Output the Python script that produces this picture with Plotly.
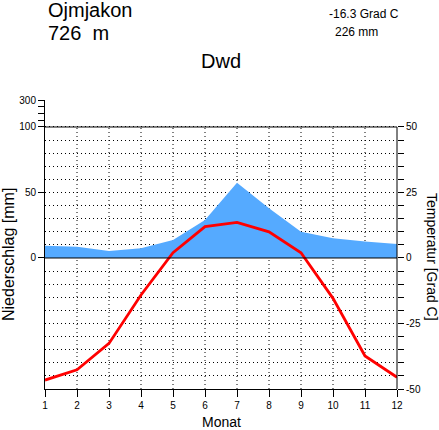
import plotly.graph_objects as go

# ---- data ----
months = [1, 2, 3, 4, 5, 6, 7, 8, 9, 10, 11, 12]
temperature_c = [-46.6, -42.7, -32.6, -14.1, 2.0, 12.0, 13.6, 10.0, 2.0, -15.4, -37.4, -45.5]
precip_mm = [9.4, 8.6, 5.3, 7.4, 13.7, 29.0, 57.5, 37.9, 20.1, 15.0, 12.5, 10.7]
station = "Ojmjakon"
elevation = "726  m"
mean_temp_text = "-16.3 Grad C"
annual_precip_text = "226 mm"
climate_class = "Dwd"
temp_ticks = list(range(-50, 55, 5))
temp_labels = [str(t) if t % 25 == 0 else "" for t in temp_ticks]
precip_tickvals = [0, 50, 100, 105.15, 110.3, 115.45, 120.6]
precip_ticktext = ["0", "50", "100", "", "", "", "300"]

W, H = 439, 430
L, R, T, B = 45, 42, 100, 41
PW, PH = W - L - R, H - T - B
FONT = "Liberation Sans, Arial, sans-serif"


def px_x(px):
    return (px - L) / PW


def px_y(py):
    return (H - B - py) / PH


fig = go.Figure()

fig.add_trace(go.Scatter(
    x=months, y=precip_mm, yaxis="y", mode="lines",
    line=dict(width=0, color="#55aaff"), fill="tozeroy", fillcolor="#55aaff",
    hoverinfo="skip", showlegend=False,
))
fig.add_trace(go.Scatter(
    x=months, y=temperature_c, yaxis="y2", mode="lines",
    line=dict(width=2.8, color="#ff0000"), showlegend=False,
))

shapes = []
# vertical dotted grid lines
for m in months[1:-1]:
    shapes.append(dict(type="line", xref="x", yref="y2", x0=m, x1=m, y0=-50, y1=50,
                       line=dict(color="black", width=1, dash="1px,3px"), layer="below"))
# top line, zero line, right axis line
shapes.append(dict(type="line", xref="paper", yref="y2", x0=0, x1=1, y0=50, y1=50,
                   line=dict(color="black", width=1), layer="above"))
shapes.append(dict(type="line", xref="paper", yref="y2", x0=0, x1=1, y0=0, y1=0,
                   line=dict(color="black", width=1), layer="above"))
shapes.append(dict(type="line", xref="paper", yref="y2", x0=1, x1=1, y0=-50, y1=50,
                   line=dict(color="black", width=1), layer="above"))

annotations = [
    dict(text=station, x=px_x(46), y=px_y(10), xanchor="left", yanchor="middle",
         font=dict(size=20, family=FONT, color="black")),
    dict(text=elevation, x=px_x(46), y=px_y(33), xanchor="left", yanchor="middle",
         font=dict(size=20, family=FONT, color="black")),
    dict(text=climate_class, x=px_x(221), y=px_y(61), xanchor="center", yanchor="middle",
         font=dict(size=20, family=FONT, color="black")),
    dict(text=mean_temp_text, x=px_x(327), y=px_y(14), xanchor="left", yanchor="middle",
         font=dict(size=12, family=FONT, color="black")),
    dict(text=annual_precip_text, x=px_x(333), y=px_y(31.5), xanchor="left", yanchor="middle",
         font=dict(size=12, family=FONT, color="black")),
    dict(text="Niederschlag [mm]", x=px_x(8), y=px_y(255), xanchor="center", yanchor="middle",
         textangle=-90, font=dict(size=16, family=FONT, color="black")),
    dict(text="Temperatur [Grad C]", x=px_x(432), y=px_y(257), xanchor="center", yanchor="middle",
         textangle=90, font=dict(size=14, family=FONT, color="black")),
    dict(text="Monat", x=px_x(221), y=px_y(421.5), xanchor="center", yanchor="middle",
         font=dict(size=14, family=FONT, color="black")),
]
for a in annotations:
    a.update(xref="paper", yref="paper", showarrow=False)

fig.update_layout(
    width=W, height=H,
    margin=dict(l=L, r=R, t=T, b=B, pad=0),
    paper_bgcolor="white", plot_bgcolor="white",
    font=dict(family=FONT, size=10, color="black"),
    xaxis=dict(range=[1, 12], tickvals=months, ticktext=[str(m) for m in months],
               ticks="outside", ticklen=7, tickcolor="black", showline=True,
               linecolor="black", linewidth=1, showgrid=False, zeroline=False,
               tickfont=dict(size=10), fixedrange=True),
    yaxis=dict(range=[-100, 120.6], tickvals=precip_tickvals, ticktext=precip_ticktext,
               ticks="outside", ticklen=6, tickcolor="black", showline=True,
               linecolor="black", linewidth=1, showgrid=False, zeroline=False,
               tickfont=dict(size=10)),
    yaxis2=dict(range=[-50, 60.3], overlaying="y", side="right", tickvals=temp_ticks,
                ticktext=temp_labels, ticks="outside", ticklen=6, tickcolor="black",
                showline=False, showgrid=True, gridcolor="black", gridwidth=1,
                griddash="1px,3px", zeroline=False, tickfont=dict(size=10)),
    shapes=shapes,
    annotations=annotations,
    showlegend=False,
)

fig.write_html(
    "out.html",
    config={"displayModeBar": False},
    post_script="document.body.style.margin='0';document.body.style.padding='0';",
)
